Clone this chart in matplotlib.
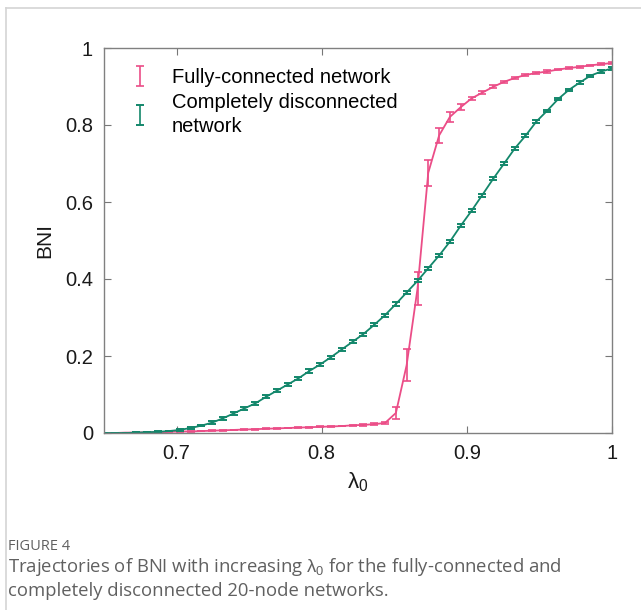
import matplotlib.pyplot as plt
from matplotlib.lines import Line2D

plt.rcParams['font.family'] = ['Liberation Sans', 'DejaVu Sans']
plt.rcParams['mathtext.fontset'] = 'custom'
plt.rcParams['mathtext.it'] = 'Liberation Sans'
plt.rcParams['mathtext.rm'] = 'Liberation Sans'

# lambda_0 grid (48 points from 0.65 to 1)
lam = [0.6500, 0.6574, 0.6649, 0.6723, 0.6798, 0.6872, 0.6947, 0.7021,
       0.7096, 0.7170, 0.7245, 0.7319, 0.7394, 0.7468, 0.7543, 0.7617,
       0.7691, 0.7766, 0.7840, 0.7915, 0.7989, 0.8064, 0.8138, 0.8213,
       0.8287, 0.8362, 0.8436, 0.8511, 0.8585, 0.8660, 0.8734, 0.8809,
       0.8883, 0.8957, 0.9032, 0.9106, 0.9181, 0.9255, 0.9330, 0.9404,
       0.9479, 0.9553, 0.9628, 0.9702, 0.9777, 0.9851, 0.9926, 1.0000]

# fully-connected network
bni_full = [0.000, 0.000, 0.001, 0.001, 0.002, 0.002, 0.003, 0.004,
            0.004, 0.005, 0.006, 0.007, 0.008, 0.009, 0.010, 0.011,
            0.012, 0.013, 0.014, 0.015, 0.016, 0.017, 0.018, 0.020,
            0.021, 0.023, 0.026, 0.052, 0.176, 0.375, 0.676, 0.773,
            0.821, 0.846, 0.869, 0.884, 0.899, 0.912, 0.922, 0.930,
            0.935, 0.939, 0.944, 0.948, 0.951, 0.955, 0.958, 0.961]
err_full = [0.000, 0.000, 0.000, 0.000, 0.001, 0.001, 0.001, 0.001,
            0.001, 0.001, 0.001, 0.001, 0.001, 0.001, 0.001, 0.001,
            0.001, 0.001, 0.001, 0.001, 0.001, 0.001, 0.001, 0.002,
            0.002, 0.002, 0.003, 0.016, 0.042, 0.043, 0.034, 0.020,
            0.013, 0.008, 0.005, 0.004, 0.004, 0.003, 0.003, 0.003,
            0.003, 0.003, 0.002, 0.002, 0.002, 0.002, 0.002, 0.002]

# completely disconnected network
bni_disc = [0.000, 0.000, 0.000, 0.001, 0.002, 0.003, 0.005, 0.008,
            0.013, 0.019, 0.027, 0.038, 0.051, 0.064, 0.077, 0.094,
            0.110, 0.126, 0.142, 0.161, 0.178, 0.197, 0.217, 0.237,
            0.257, 0.281, 0.306, 0.335, 0.365, 0.395, 0.428, 0.461,
            0.497, 0.538, 0.577, 0.618, 0.660, 0.699, 0.739, 0.772,
            0.809, 0.837, 0.867, 0.891, 0.910, 0.928, 0.939, 0.947]
err_disc = [0.000, 0.000, 0.000, 0.001, 0.001, 0.001, 0.001, 0.002,
            0.002, 0.002, 0.003, 0.003, 0.003, 0.003, 0.003, 0.004,
            0.004, 0.004, 0.004, 0.004, 0.004, 0.004, 0.004, 0.004,
            0.004, 0.004, 0.004, 0.004, 0.004, 0.004, 0.004, 0.004,
            0.004, 0.004, 0.004, 0.004, 0.004, 0.004, 0.004, 0.004,
            0.003, 0.003, 0.003, 0.003, 0.003, 0.003, 0.003, 0.003]

pink = '#EB4D87'
green = '#13876B'

fig = plt.figure(figsize=(6.41, 6.10), dpi=100)

# card border
fig.add_artist(Line2D([6/641, 1], [1 - 8/610, 1 - 8/610], color='#d4d4d4', lw=1.2))
fig.add_artist(Line2D([6/641, 6/641], [0, 1 - 8/610], color='#d4d4d4', lw=1.2))

ax = fig.add_axes([104/641, 1 - 433/610, 508/641, 385/610])

# curves
ax.plot(lam, bni_full, color=pink, lw=1.3)
ax.errorbar(lam, bni_full, yerr=err_full, fmt='none', ecolor=pink,
            elinewidth=1.2, capsize=3.2, capthick=1.2, label='Fully-connected network')
ax.plot(lam, bni_disc, color=green, lw=1.3)
ax.errorbar(lam, bni_disc, yerr=err_disc, fmt='none', ecolor=green,
            elinewidth=1.2, capsize=3.2, capthick=1.4,
            label='Completely disconnected\nnetwork')

ax.set_xlim(0.65, 1)
ax.set_ylim(0, 1)
ax.set_xticks([0.7, 0.8, 0.9, 1], ['0.7', '0.8', '0.9', '1'])
ax.set_yticks([0, 0.2, 0.4, 0.6, 0.8, 1], ['0', '0.2', '0.4', '0.6', '0.8', '1'])
ax.tick_params(direction='in', top=True, right=True, length=5, width=0.8,
               color='#777777', labelsize=14.5, labelcolor='#1a1a1a', pad=8)
for s in ax.spines.values():
    s.set_color('#808080')
    s.set_linewidth(1.0)

ax.set_xlabel(r'$\lambda_0$', fontsize=16, color='#1a1a1a', labelpad=5)
ax.set_ylabel('BNI', fontsize=15, color='#1a1a1a', labelpad=8)

leg = ax.legend(loc='upper left', bbox_to_anchor=(0.018, 0.995), frameon=False,
                fontsize=14.5, handlelength=0.9, handletextpad=1.1, labelspacing=0.3)
leg.get_texts()[1].set_linespacing(1.35)

# caption
fig.text(8/641, 1 - 546/610, 'FIGURE 4', fontsize=10.5, color='#606060',
         family='Open Sans', va='center', ha='left')
fig.text(8/641, 1 - 567/610,
         r'Trajectories of BNI with increasing $\lambda_0$ for the fully-connected and',
         fontsize=13.3, color='#606060', family='Open Sans', va='center', ha='left')
fig.text(8/641, 1 - 591/610, 'completely disconnected 20-node networks.',
         fontsize=13.3, color='#606060', family='Open Sans', va='center', ha='left')

fig.savefig('out.png', dpi=100)
